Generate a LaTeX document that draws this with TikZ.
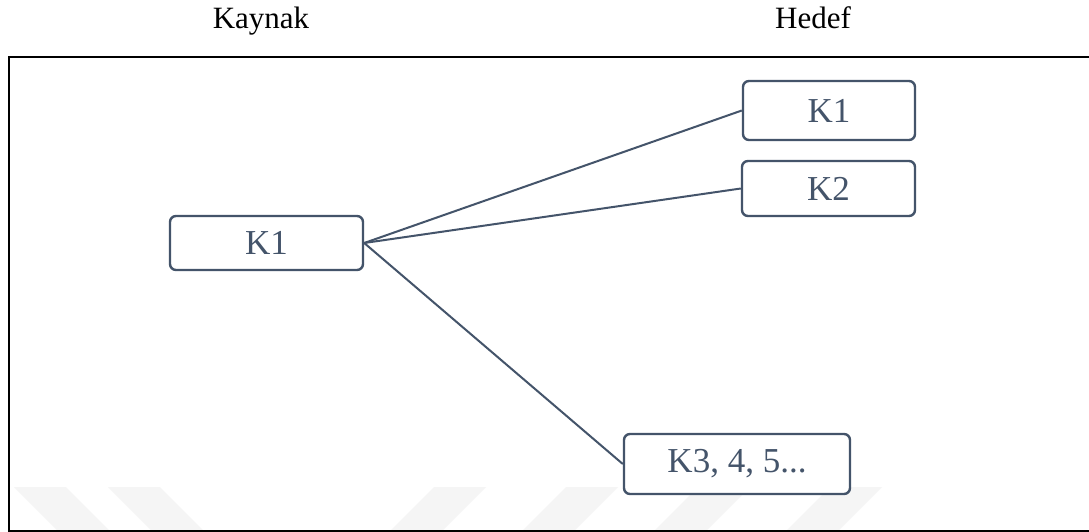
\documentclass[tikz,border=0pt]{standalone}
\usepackage{fontspec}
\newfontfamily\tnr{LiberationSerif}[Extension=.ttf, UprightFont=*-Regular, BoldFont=*-Bold]
\definecolor{slate}{HTML}{44546A}
\definecolor{wm}{HTML}{F5F5F5}
\tikzset{
  box/.style={draw=slate, line width=2.4pt, rounded corners=6pt, fill=white, text=slate,
    font=\tnr\fontsize{35}{40}\selectfont, inner sep=0pt, anchor=center},
  link/.style={draw=slate, line width=2pt},
  head/.style={font=\tnr\fontsize{31}{36}\selectfont, text=black, anchor=base, inner sep=0pt},
  stripe/.style={fill=wm, draw=none}
}
\begin{document}
\begin{tikzpicture}[x=1pt, y=-1pt]
\useasboundingbox (0,0) rectangle (1089,532);
\clip (0,0) rectangle (1089,532);
\fill[white] (0,0) rectangle (1089,532);
% watermark stripes
\fill[stripe] (14,487) -- (66,487) -- (111,532) -- (59,532) -- cycle;
\fill[stripe] (108,487) -- (160,487) -- (205,532) -- (153,532) -- cycle;
\fill[stripe] (434,487) -- (486,487) -- (441,532) -- (389,532) -- cycle;
\fill[stripe] (566,487) -- (618,487) -- (573,532) -- (521,532) -- cycle;
\fill[stripe] (698,487) -- (750,487) -- (705,532) -- (653,532) -- cycle;
\fill[stripe] (830,487) -- (882,487) -- (837,532) -- (785,532) -- cycle;
% frame
\draw[line width=2pt, black] (1100,57) -- (9,57) -- (9,531) -- (1100,531);
% headers
\node[head] (kaynak) at (261,29) {Kaynak};
\node[head] (hedef) at (813,29) {Hedef};
% nodes
\node[box, minimum width=193pt, minimum height=54pt] (src) at (266.5,243) {K1};
\node[box, minimum width=172pt, minimum height=59pt] (t1) at (829,110.5) {K1};
\node[box, minimum width=173pt, minimum height=55pt] (t2) at (828.5,188.5) {K2};
\node[box, minimum width=226pt, minimum height=60pt] (t3) at (737,464) {K3, 4, 5...};
% connectors
\draw[link] (src.east) -- (t1.west);
\draw[link] (src.east) -- (t2.west);
\draw[link] (src.east) -- (t3.west);
\end{tikzpicture}
\end{document}
